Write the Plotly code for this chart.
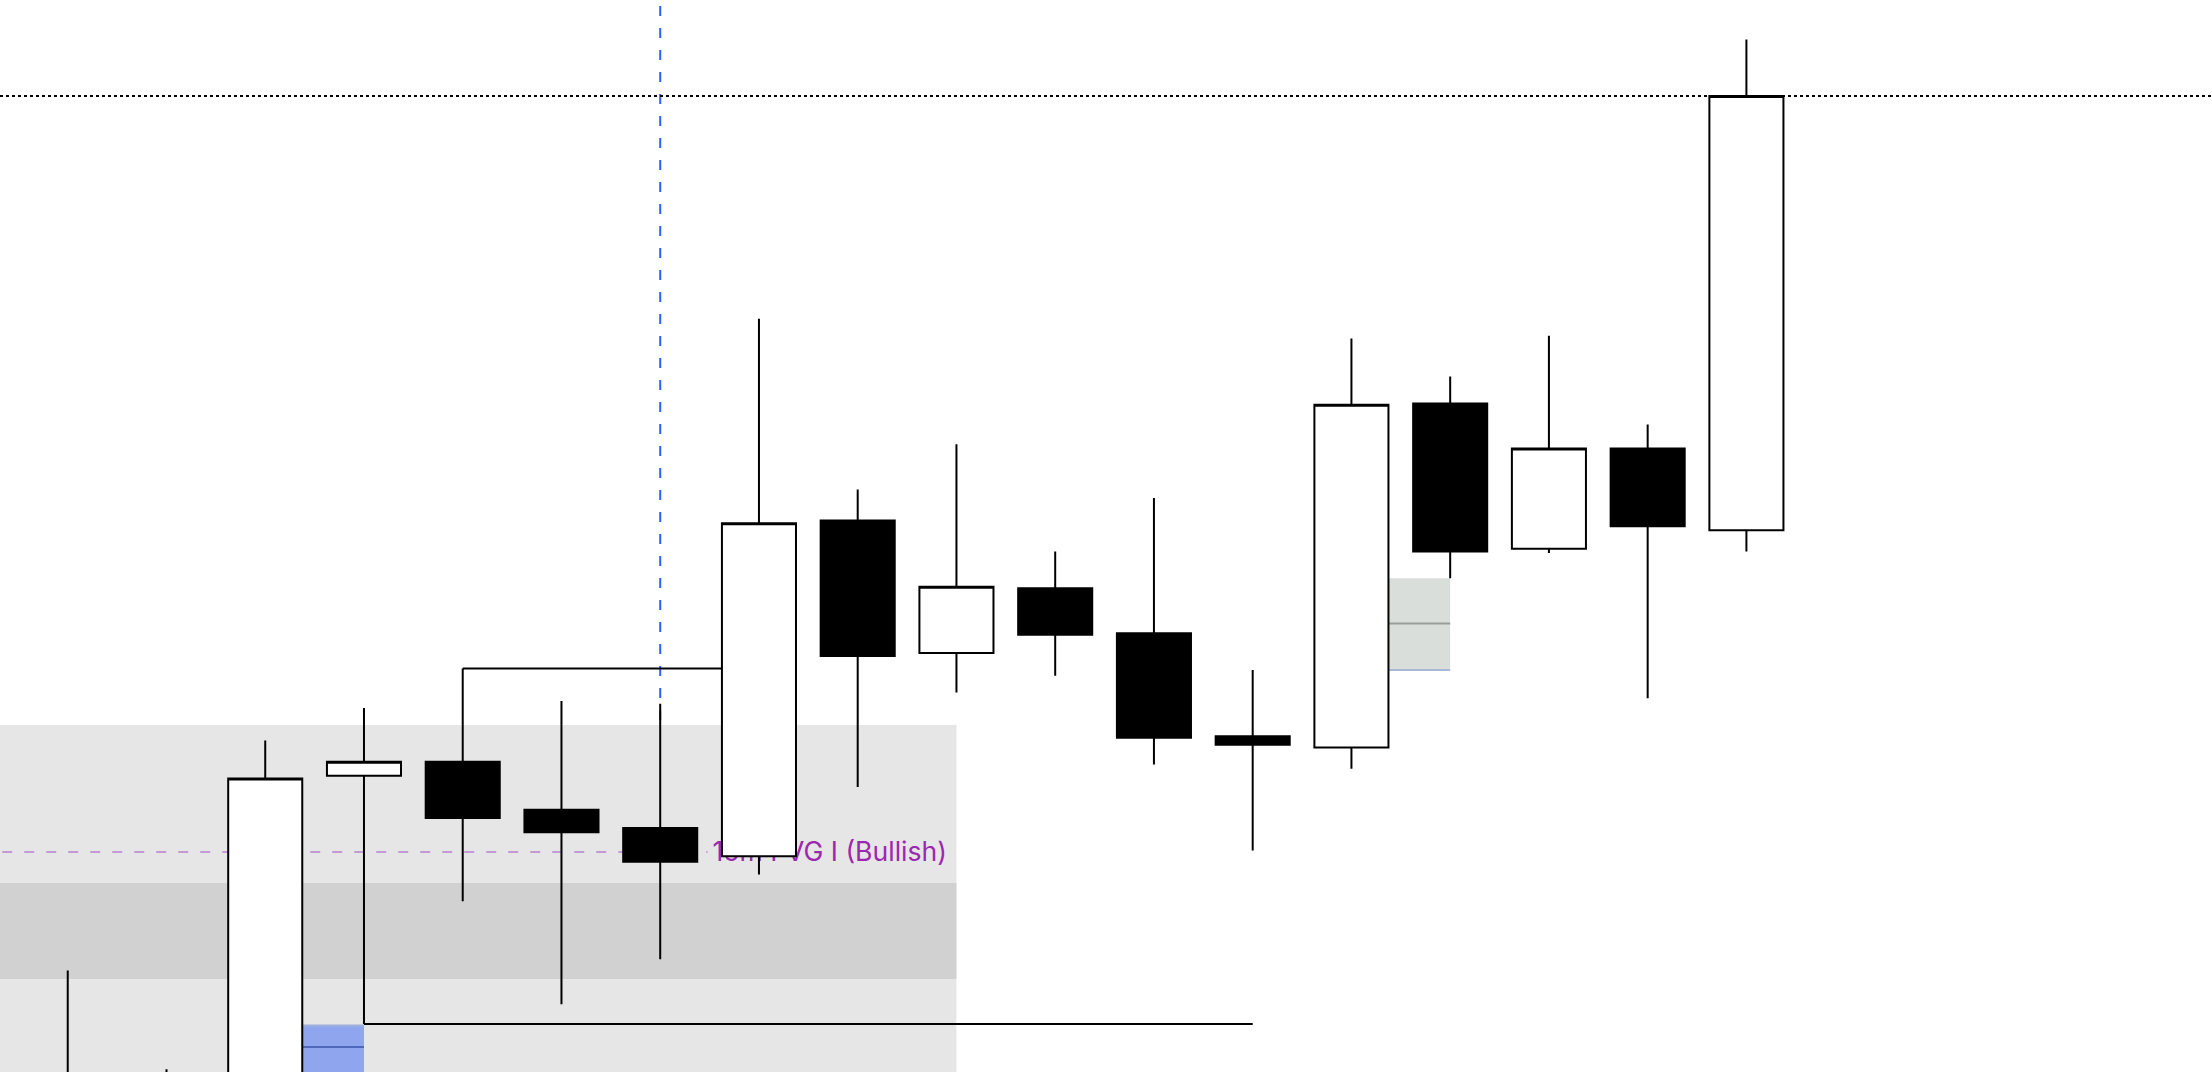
import plotly.graph_objects as go

# ---- data ----
bar_index = list(range(18))
opens  = [20990, 20985, 20990, 21052.5, 21055, 21046.5, 21043.25, 21038.25, 21097.75, 21074.25,
          21085.75, 21077.75, 21059.5, 21057.5, 21118.5, 21092.75, 21110.5, 21096]
highs  = [21018, 21000.5, 21058.75, 21064.5, 21071.5, 21065.75, 21065.25, 21133.5, 21103.25, 21111.25,
          21092.25, 21101.75, 21071.25, 21130, 21123.25, 21130.5, 21114.75, 21183]
lows   = [20975, 20970, 20980, 21008.5, 21030.25, 21012, 21020, 21035, 21050.5, 21067.25,
          21070.25, 21054.5, 21039.25, 21053.75, 21087.5, 21092, 21066.25, 21092.25]
closes = [20995, 20980, 21052, 21055, 21045, 21042.5, 21037.25, 21097.25, 21073.75, 21086,
          21077.5, 21059.25, 21058, 21118.25, 21092.25, 21110.5, 21096.75, 21173]

# zones / levels (price values)
zone_outer = [20900, 21061.5]     # light gray zone
zone_inner = [21016.5, 21033.5]   # darker band
zone_end_bar = 9
fvg_level = 21039
fvg_label = "15m FVG I (Bullish)"
fvg_label_bar = 6.53
fvg_label_y = 21038.5
blue_box = [20900, 21008.25]
blue_mid = 21004.45
gray_box = [21071.25, 21087.5]
gray_mid = 21079.5
swing_high_line = 21071.5
swing_low_line = 21008.5
last_close_level = 21173
vline_bar = 6

x_range = [-0.686, 21.715]
y_range = [21000, 21190]

fig = go.Figure()

# label on the base subplot (drawn beneath the candles on the overlay subplot)
fig.add_trace(go.Scatter(
    x=[fvg_label_bar], y=[fvg_label_y], mode="text", text=[fvg_label],
    textposition="middle right",
    textfont=dict(family="Inter", size=26.6, color="#9c27b0"),
    hoverinfo="skip", showlegend=False, xaxis="x", yaxis="y",
))

fig.add_trace(go.Candlestick(
    x=bar_index, open=opens, high=highs, low=lows, close=closes,
    increasing=dict(fillcolor="#ffffff", line=dict(color="#000000", width=2)),
    decreasing=dict(fillcolor="#000000", line=dict(color="#000000", width=2)),
    whiskerwidth=0, hoverinfo="skip", showlegend=False, xaxis="x2", yaxis="y2",
))

shapes = []
# gray zones
shapes.append(dict(type="rect", xref="x", yref="y", x0=-2, x1=zone_end_bar,
                   y0=zone_outer[0], y1=zone_outer[1], fillcolor="#e6e6e6",
                   line=dict(width=0), layer="below"))
shapes.append(dict(type="rect", xref="x", yref="y", x0=-2, x1=zone_end_bar,
                   y0=zone_inner[0], y1=zone_inner[1], fillcolor="#d1d1d1",
                   line=dict(width=0), layer="below"))
# purple FVG dashed line
shapes.append(dict(type="line", xref="x", yref="y", x0=-2, x1=fvg_label_bar - 0.05,
                   y0=fvg_level, y1=fvg_level,
                   line=dict(color="#c49ad6", width=2, dash="10px,12px"), layer="below"))
# blue box
shapes.append(dict(type="rect", xref="x", yref="y", x0=2, x1=3,
                   y0=blue_box[0], y1=blue_box[1], fillcolor="#8fa6ee",
                   line=dict(width=0), layer="below"))
shapes.append(dict(type="line", xref="x", yref="y", x0=2, x1=3,
                   y0=blue_box[1], y1=blue_box[1],
                   line=dict(color="#9fb0da", width=2), layer="below"))
shapes.append(dict(type="line", xref="x", yref="y", x0=2, x1=3,
                   y0=blue_mid, y1=blue_mid,
                   line=dict(color="#5068b8", width=2), layer="below"))
# gray box
shapes.append(dict(type="rect", xref="x", yref="y", x0=13, x1=14,
                   y0=gray_box[0], y1=gray_box[1], fillcolor="#dadedb",
                   line=dict(width=0), layer="below"))
shapes.append(dict(type="line", xref="x", yref="y", x0=13, x1=14,
                   y0=gray_mid, y1=gray_mid,
                   line=dict(color="#9a9e9a", width=2), layer="below"))
shapes.append(dict(type="line", xref="x", yref="y", x0=13, x1=14,
                   y0=gray_box[0], y1=gray_box[0],
                   line=dict(color="#aab8d8", width=2), layer="below"))
# swing lines
shapes.append(dict(type="line", xref="x", yref="y", x0=4, x1=7,
                   y0=swing_high_line, y1=swing_high_line,
                   line=dict(color="#000000", width=2), layer="below"))
shapes.append(dict(type="line", xref="x", yref="y", x0=3, x1=12,
                   y0=swing_low_line, y1=swing_low_line,
                   line=dict(color="#000000", width=2), layer="below"))
# vertical blue dashed
shapes.append(dict(type="line", xref="x", yref="paper", x0=vline_bar, x1=vline_bar,
                   y0=0, y1=1,
                   line=dict(color="#2962ff", width=2, dash="10px,12px"), layer="below"))
# dotted last close level
shapes.append(dict(type="line", xref="paper", yref="y", x0=0, x1=1,
                   y0=last_close_level, y1=last_close_level,
                   line=dict(color="#000000", width=2, dash="3px,3px"), layer="above"))

axis_common = dict(visible=False, showgrid=False, zeroline=False)
fig.update_layout(
    width=2212, height=1072,
    margin=dict(l=0, r=0, t=0, b=0),
    paper_bgcolor="#ffffff", plot_bgcolor="#ffffff",
    boxgap=0.25, boxgroupgap=0,
    shapes=shapes,
    showlegend=False,
    xaxis=dict(range=x_range, rangeslider=dict(visible=False), **axis_common),
    yaxis=dict(range=y_range, **axis_common),
    xaxis2=dict(range=x_range, overlaying="x", rangeslider=dict(visible=False), **axis_common),
    yaxis2=dict(range=y_range, overlaying="y", **axis_common),
    hovermode=False,
)

fig.write_html("out.html", config={"displayModeBar": False},
               post_script="document.body.style.margin='0';document.body.style.overflow='hidden';")
